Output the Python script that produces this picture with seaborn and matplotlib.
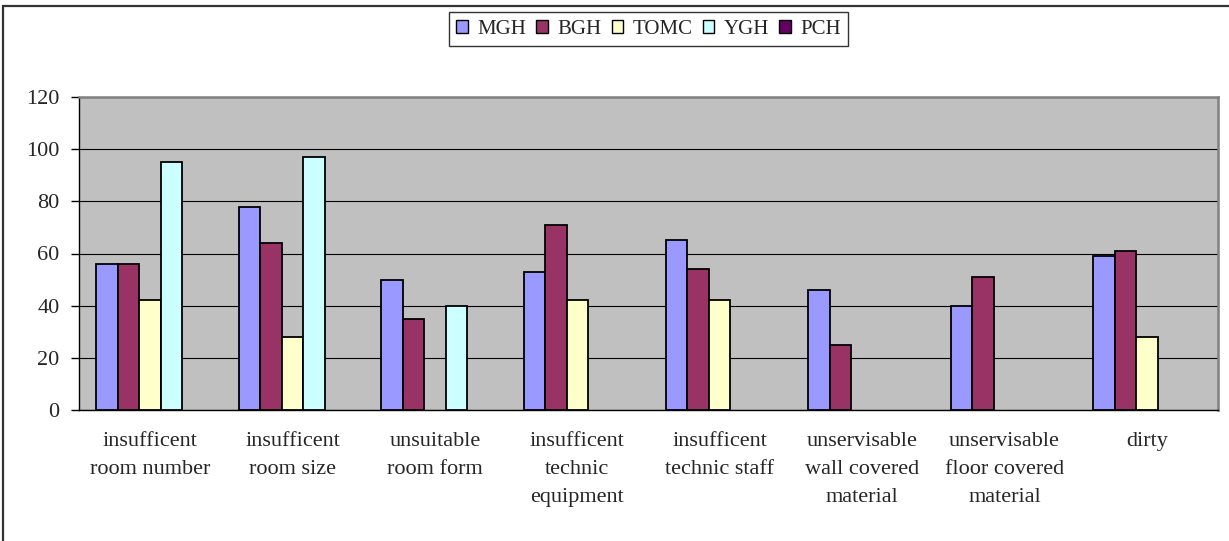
import numpy as np
import pandas as pd
import matplotlib
matplotlib.use("Agg")
import matplotlib.pyplot as plt
from matplotlib.patches import Patch, Rectangle
import seaborn as sns

# Survey categories (x axis) and the share reported by each hospital
categories = [
    "insufficent\nroom number",
    "insufficent\nroom size",
    "unsuitable\nroom form",
    "insufficent\ntechnic\nequipment",
    "insufficent\ntechnic staff",
    "unservisable\nwall covered\nmaterial",
    "unservisable\nfloor covered\nmaterial",
    "dirty",
]
hospitals = ["MGH", "BGH", "TOMC", "YGH", "PCH"]

mgh = [56, 78, 50, 53, 65, 46, 40, 59]
bgh = [56, 64, 35, 71, 54, 25, 51, 61]
tomc = [42, 28, 0, 42, 42, 0, 0, 28]
ygh = [95, 97, 40, 0, 0, 0, 0, 0]
pch = [0, 0, 0, 0, 0, 0, 0, 0]

y_ticks = [0, 20, 40, 60, 80, 100, 120]

colors = {
    "MGH": "#9999FF",
    "BGH": "#993366",
    "TOMC": "#FFFFCC",
    "YGH": "#CCFFFF",
    "PCH": "#660066",
}

wide = pd.DataFrame(
    {"category": categories, "MGH": mgh, "BGH": bgh, "TOMC": tomc, "YGH": ygh, "PCH": pch}
)
df = wide.melt(id_vars="category", var_name="hospital", value_name="value")

sns.set_style("white")
plt.rcParams["font.family"] = ["Liberation Serif", "DejaVu Serif"]

fig = plt.figure(figsize=(12.29, 5.41), dpi=100)
ax = fig.add_axes([79 / 1229, 1 - 410 / 541, (1218 - 79) / 1229, (410 - 97) / 541])

sns.barplot(
    data=df, x="category", y="value", hue="hospital",
    order=categories, hue_order=hospitals, palette=colors,
    errorbar=None, width=0.755, gap=0, dodge=True,
    edgecolor="black", linewidth=1.3, saturation=1, legend=False, ax=ax,
    zorder=3,
)

# Empty bars leave no outline on the baseline
for bar in ax.patches:
    if bar.get_height() == 0:
        bar.set_linewidth(0)

ax.set_facecolor("#C0C0C0")
ax.set_ylim(0, 120)
ax.set_xlim(-0.5, len(categories) - 0.5)
ax.set_yticks(y_ticks)
ax.set_yticklabels([str(t) for t in y_ticks])
ax.yaxis.grid(True, color="black", linewidth=0.8, zorder=1)
ax.xaxis.grid(False)
ax.set_axisbelow(True)
ax.set_xlabel("")
ax.set_ylabel("")

# Category labels centred, tick marks at the category boundaries
ax.set_xticks(range(len(categories)))
ax.set_xticklabels(categories, fontsize=16, linespacing=1.62, va="top")
ax.set_xticks(np.arange(-0.5, len(categories), 1.0), minor=True)
ax.tick_params(axis="x", which="major", length=0, pad=16)
ax.tick_params(axis="x", which="minor", length=6, width=1, direction="out", color="black")
ax.tick_params(axis="y", length=6, width=1, direction="out", color="black", labelsize=16, pad=8)
ax.tick_params(left=True, bottom=True)

for side in ["top", "right"]:
    ax.spines[side].set_color("#808080")
    ax.spines[side].set_linewidth(1.8)
for side in ["left", "bottom"]:
    ax.spines[side].set_color("black")
    ax.spines[side].set_linewidth(1.0)

handles = [Patch(facecolor=colors[h], edgecolor="black", linewidth=1.0) for h in hospitals]
leg = ax.legend(
    handles, hospitals, loc="lower center", bbox_to_anchor=(0.5, 1.163),
    ncol=5, frameon=True, fancybox=False, edgecolor="black", fontsize=15,
    handlelength=0.55, handleheight=0.55, handletextpad=0.45, columnspacing=0.5,
    borderpad=0.35, borderaxespad=0,
)
leg.get_frame().set_linewidth(1.0)

# Chart-area border
fig.patches.append(
    Rectangle((3 / 1229, -0.05), 1.2, 1 - 6 / 541 + 0.05, transform=fig.transFigure,
              fill=False, edgecolor="#333333", linewidth=1.6, clip_on=False)
)

fig.savefig("out.png", dpi=100)
